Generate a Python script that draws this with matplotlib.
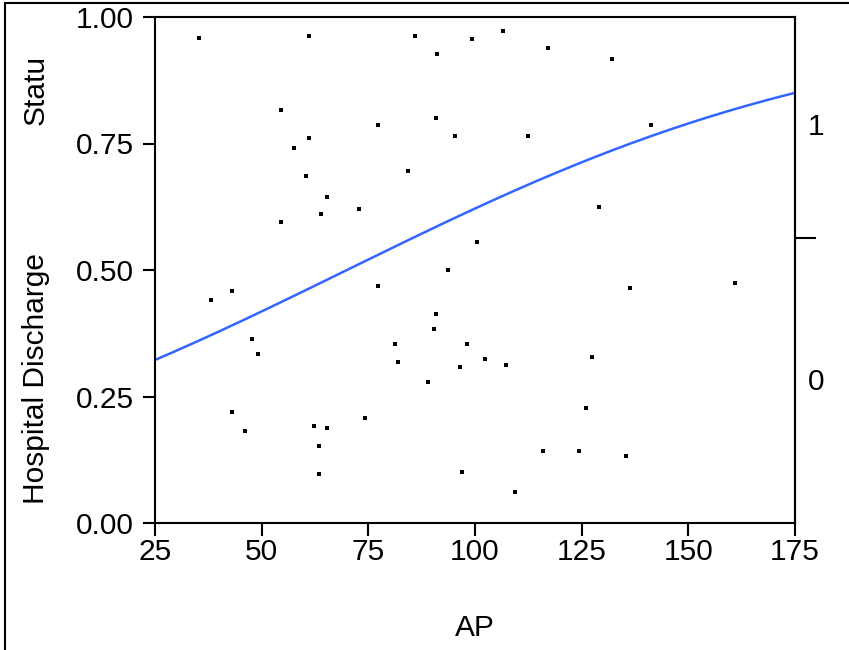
import numpy as np
import matplotlib
matplotlib.use("Agg")
import matplotlib.pyplot as plt
from matplotlib.patches import Rectangle

plt.rcParams['font.family'] = ['Liberation Sans', 'DejaVu Sans']

ap = [35.3, 61.1, 85.9, 99.3, 106.6, 91.1, 117.1, 132.1, 54.5, 77.3, 90.9, 61.1, 57.6, 95.3, 112.4, 141.2,
      60.4, 84.3, 65.3, 129.1, 54.5, 63.9, 72.8, 100.5, 93.7, 38.1, 43.0, 77.3, 90.9, 136.3, 160.9,
      47.7, 49.1, 81.2, 90.4, 98.1, 81.9, 102.3, 96.5, 107.3, 89.0, 127.4,
      43.0, 46.1, 62.3, 65.3, 74.2, 63.4, 63.4, 126.0, 115.9, 124.4, 135.4, 96.9, 109.4]
status = [0.958, 0.962, 0.962, 0.957, 0.972, 0.927, 0.939, 0.917, 0.816, 0.787, 0.800, 0.761, 0.741, 0.765, 0.765, 0.787,
          0.686, 0.696, 0.644, 0.625, 0.595, 0.611, 0.621, 0.555, 0.500, 0.441, 0.458, 0.468, 0.413, 0.464, 0.474,
          0.364, 0.334, 0.354, 0.383, 0.354, 0.318, 0.324, 0.308, 0.312, 0.279, 0.328,
          0.219, 0.182, 0.192, 0.188, 0.208, 0.152, 0.097, 0.227, 0.142, 0.142, 0.132, 0.101, 0.061]
fit_intercept = -1.157
fit_slope = 0.01653

FS = 21.5
fig = plt.figure(figsize=(8.49, 6.5), dpi=100)
ax = fig.add_axes([155/849, 1-523/650, 640/849, 506/650])
ax.scatter(ap, status, s=12, marker='s', color='black', linewidths=0, zorder=3)
xs = np.linspace(25, 175, 200)
ax.plot(xs, 1/(1+np.exp(-(fit_intercept+fit_slope*xs))), color='#3366FF', lw=1.8)
ax.set_xlim(25, 175)
ax.set_ylim(0, 1)
ax.set_xticks([25, 50, 75, 100, 125, 150, 175])
ax.set_yticks([0, 0.25, 0.5, 0.75, 1.0])
ax.set_yticklabels(['0.00', '0.25', '0.50', '0.75', '1.00'])
ax.tick_params(axis='y', labelsize=FS, length=9, width=1.5, direction='out', pad=6)
ax.tick_params(axis='x', labelsize=FS, length=9, width=1.5, direction='out', pad=2)
for s in ax.spines.values():
    s.set_linewidth(1.5)
ax.set_xlabel('AP', fontsize=FS, labelpad=34)

ax2 = ax.twinx()
ax2.set_ylim(0, 1)
ax2.set_yticks([0.563])
ax2.set_yticklabels([''])
ax2.tick_params(length=15, width=1.5)
for s in ax2.spines.values():
    s.set_visible(False)
ax2.spines['right'].set_visible(True)
ax2.spines['right'].set_linewidth(1.5)
ax2.text(1.02, 0.783, '1', transform=ax2.transAxes, fontsize=FS, va='center')
ax2.text(1.02, 0.279, '0', transform=ax2.transAxes, fontsize=FS, va='center')

fig.text(36/849, 1-378/650, 'Hospital Discharge', rotation=90, fontsize=FS, ha='center', va='center')
fig.text(36/849, 1-90/650, 'Statu', rotation=90, fontsize=FS, ha='center', va='center')

fig.patches.append(Rectangle((5/849, -0.1), 1.1, 1-3/650+0.1, transform=fig.transFigure,
                             fill=False, lw=1.5, edgecolor='black', zorder=10))
fig.savefig('out.png', dpi=100)
